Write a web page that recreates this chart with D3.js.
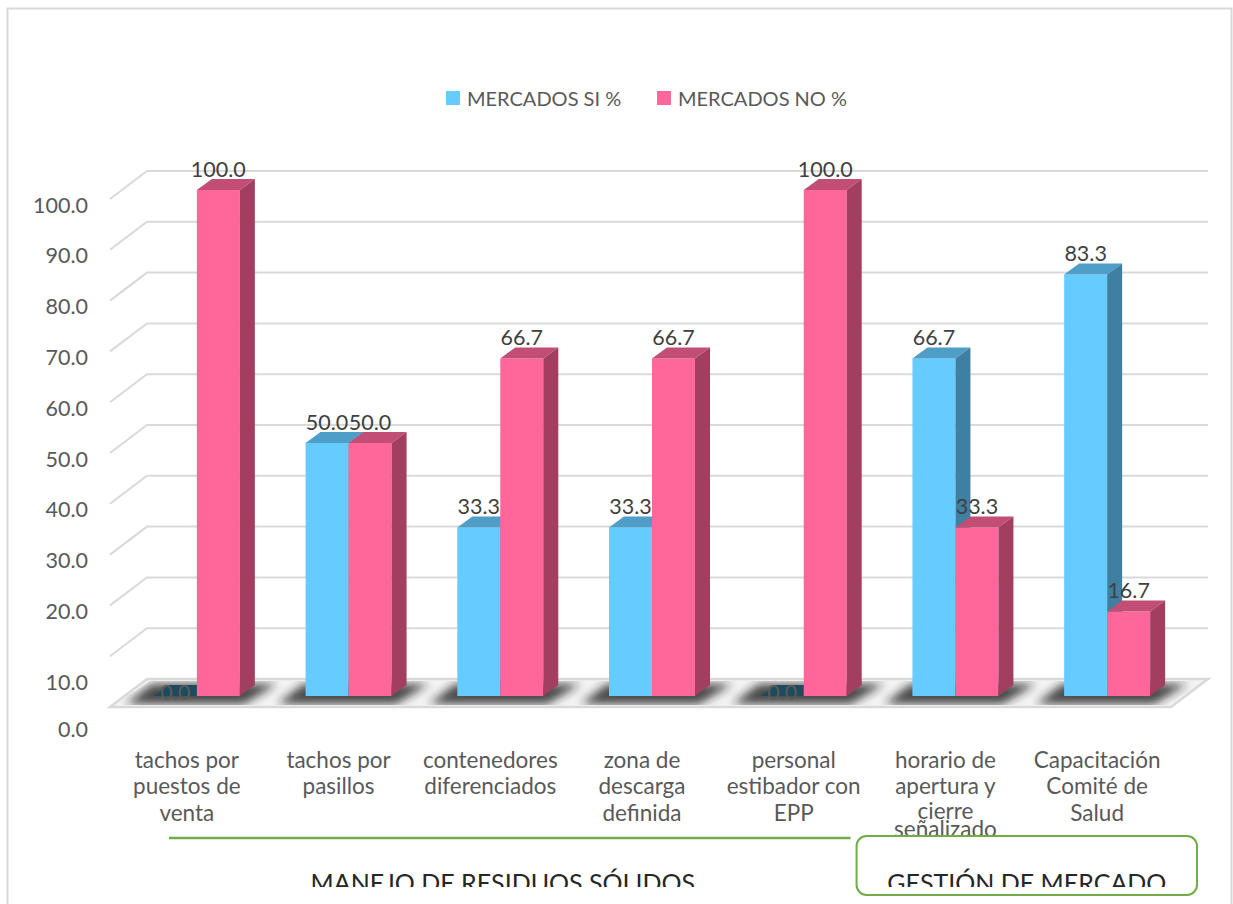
<!DOCTYPE html>
<html>
<head>
<meta charset="utf-8">
<script src="https://cdn.jsdelivr.net/npm/d3@7"></script>
<style>
  html, body { margin: 0; padding: 0; background: #fff; }
  svg { display: block; }
  text { font-family: Lato, "Open Sans", "Liberation Sans", sans-serif; }
</style>
</head>
<body>
<svg id="chart" width="1233" height="904"></svg>
<script>
// ---------- data ----------
const categories = [
  ["tachos por", "puestos de", "venta"],
  ["tachos por", "pasillos"],
  ["contenedores", "diferenciados"],
  ["zona de", "descarga", "definida"],
  ["personal", "estibador con", "EPP"],
  ["horario de", "apertura y", "cierre", "señalizado"],
  ["Capacitación", "Comité de", "Salud"]
];
const seriesNames = ["MERCADOS SI %", "MERCADOS NO %"];
const siValues = [0.0, 50.0, 33.3, 33.3, 0.0, 66.7, 83.3];
const noValues = [100.0, 50.0, 66.7, 66.7, 100.0, 33.3, 16.7];
const tickValues = [0, 10, 20, 30, 40, 50, 60, 70, 80, 90, 100];
const groupNames = ["MANEJO DE RESIDUOS SÓLIDOS", "GESTIÓN DE MERCADO"];
const groupFirst = [0, 5];
const groupLast = [4, 6];

// ---------- styles ----------
const colors = {
  si: { front: "#66CCFF", top: "#4E9EC8", side: "#3F7FA2" },
  no: { front: "#FF6699", top: "#C24E75", side: "#A23F60" }
};
const zeroTop = "#1E4A5E";
const gridColor = "#D9D9D9";
const textColor = "#595959";
const labelColor = "#404040";
const green = "#70AD47";
const fontSize = 21.5;

const svg = d3.select("#chart");

// outer border
svg.append("rect").attr("x", 7.5).attr("y", 8.5).attr("width", 1224).attr("height", 920)
  .attr("fill", "none").attr("stroke", gridColor).attr("stroke-width", 2);

// ---------- scales ----------
const idx = categories.map((d, i) => i);
const x = d3.scaleBand().domain(idx).range([121, 1183]).padding(0);
const barW = 43;
const xs = d3.scaleBand().domain(["si", "no"]).range([-barW, barW]).padding(0);
const yBar = d3.scaleLinear().domain([0, 100]).range([696, 190]);
const yGrid = d3.scaleLinear().domain([0, 100]).range([679, 171]);
const wallDX = 37, wallDY = 28;     // wall depth
const barDX = 15, barDY = 11;       // bar depth
const gridX0 = 147, gridX1 = 1208;

// ---------- gridlines ----------
const gridG = svg.append("g");
tickValues.filter(v => v > 0).forEach(v => {
  const yb = yGrid(v);
  gridG.append("path")
    .attr("d", `M${gridX0 - wallDX},${yb + wallDY} L${gridX0},${yb} L${gridX1},${yb}`)
    .attr("fill", "none").attr("stroke", gridColor).attr("stroke-width", 2);
});

// floor
const fy = yGrid(0);
svg.append("path")
  .attr("d", `M${gridX0 - wallDX},${fy + wallDY} L${gridX0},${fy} L${gridX1},${fy} L${gridX1 - wallDX},${fy + wallDY} Z`)
  .attr("fill", "#F3F3F3").attr("stroke", gridColor).attr("stroke-width", 2.5);

// shadows
const defs = svg.append("defs");
const f = defs.append("filter").attr("id", "blur").attr("x", "-30%").attr("y", "-100%").attr("width", "160%").attr("height", "300%");
f.append("feGaussianBlur").attr("stdDeviation", 5);
const clipF = defs.append("clipPath").attr("id", "floorClip");
clipF.append("path")
  .attr("d", `M${gridX0 - wallDX + 4},${fy + wallDY - 2} L${gridX0 + 3},${fy + 2} L${gridX1 - 3},${fy + 2} L${gridX1 - wallDX - 3},${fy + wallDY - 2} Z`);

const shadowG = svg.append("g").attr("clip-path", "url(#floorClip)");
idx.forEach(i => {
  const c = x(i) + x.bandwidth() / 2;
  const xl = c - barW, xr = c + barW;
  const yb = yBar(0);
  shadowG.append("path")
    .attr("d", `M${xl - 28},${yb + 8} L${xr + 4},${yb + 8} L${xr + barDX + 22},${yb - 12} L${xl - 2},${yb - 12} Z`)
    .attr("fill", "#1a1a1a").attr("opacity", 0.8).attr("filter", "url(#blur)");
});

// ---------- bars ----------
const barsG = svg.append("g");
function drawBar(cx, v, col, isZero) {
  const xl = cx + 0, xr = cx + barW;
  const yt = yBar(v), yb = yBar(0);
  const g = barsG.append("g");
  if (isZero) {
    g.append("path")
      .attr("d", `M${xl},${yb} L${xr},${yb} L${xr + barDX},${yb - barDY} L${xl + barDX},${yb - barDY} Z`)
      .attr("fill", zeroTop);
    return;
  }
  g.append("rect").attr("x", xl).attr("y", yt).attr("width", barW).attr("height", yb - yt)
    .attr("fill", col.front);
  g.append("path")
    .attr("d", `M${xl},${yt} L${xr},${yt} L${xr + barDX},${yt - barDY} L${xl + barDX},${yt - barDY} Z`)
    .attr("fill", col.top);
  g.append("path")
    .attr("d", `M${xr},${yt} L${xr + barDX},${yt - barDY} L${xr + barDX},${yb - barDY} L${xr},${yb} Z`)
    .attr("fill", col.side);
}
idx.forEach(i => {
  const c = x(i) + x.bandwidth() / 2;
  drawBar(c + xs("si"), siValues[i], colors.si, siValues[i] === 0);
  drawBar(c + xs("no"), noValues[i], colors.no, noValues[i] === 0);
});

// ---------- data labels ----------
const labG = svg.append("g").attr("font-size", fontSize).attr("text-anchor", "middle");
idx.forEach(i => {
  const c = x(i) + x.bandwidth() / 2;
  [["si", siValues[i]], ["no", noValues[i]]].forEach(([k, v]) => {
    const cx = c + xs(k) + barW / 2;
    const yc = v === 0 ? yBar(0) - 4 : yBar(v) - 21;
    labG.append("text").attr("x", cx).attr("y", yc).attr("dy", "0.35em")
      .attr("fill", v === 0 ? "#5a5a5a" : labelColor)
      .text(d3.format(".1f")(v));
  });
});

// ---------- y tick labels ----------
const tickG = svg.append("g").attr("font-size", fontSize).attr("text-anchor", "end").attr("fill", textColor);
tickValues.forEach(v => {
  const shift = v === 10 ? 20 : (v === 0 ? 16 : 0);
  tickG.append("text").attr("x", 88).attr("y", yGrid(v) + wallDY + 6 + shift).attr("dy", "0.35em")
    .text(d3.format(".1f")(v));
});

// ---------- category labels ----------
const catG = svg.append("g").attr("font-size", 22.5).attr("text-anchor", "middle").attr("fill", textColor);
idx.forEach(i => {
  const c = x(i) + x.bandwidth() / 2 - 10;
  categories[i].forEach((line, j) => {
    let yy = 760 + j * 26.5;
    if (categories[i].length > 3 && j >= 2) yy = j === 2 ? 811 : 829;
    catG.append("text").attr("x", c).attr("y", yy).attr("dy", "0.35em").text(line);
  });
});

// ---------- group labels ----------
const clipG = defs.append("clipPath").attr("id", "groupClip");
clipG.append("rect").attr("x", 0).attr("y", 0).attr("width", 1233).attr("height", 887);

const grpG = svg.append("g");
// green line under first group
const g0l = x(groupFirst[0]) + 48, g0r = x(groupLast[0]) + x.bandwidth() - 29;
grpG.append("line").attr("x1", g0l).attr("x2", g0r).attr("y1", 838).attr("y2", 838)
  .attr("stroke", green).attr("stroke-width", 2.5);
// rounded box around second group
const g1l = x(groupFirst[1]) - 23, g1r = x(groupLast[1]) + x.bandwidth() + 14;
grpG.append("rect").attr("x", g1l).attr("y", 836).attr("width", g1r - g1l).attr("height", 59)
  .attr("rx", 10).attr("ry", 10).attr("fill", "none").attr("stroke", green).attr("stroke-width", 2);

const grpText = svg.append("g").attr("clip-path", "url(#groupClip)")
  .attr("font-size", 25).attr("text-anchor", "middle").attr("fill", "#262626");
grpText.append("text").attr("x", (g0l + g0r) / 2 - 7).attr("y", 892).text(groupNames[0]);
grpText.append("text").attr("x", (g1l + g1r) / 2).attr("y", 892).text(groupNames[1]);

// ---------- legend ----------
const legG = svg.append("g").attr("font-size", 20).attr("fill", textColor);
const legX = [446, 657];
[colors.si.front, colors.no.front].forEach((col, k) => {
  legG.append("rect").attr("x", legX[k]).attr("y", 91).attr("width", 14).attr("height", 14).attr("fill", col);
  legG.append("text").attr("x", legX[k] + 21).attr("y", 99).attr("dy", "0.35em").text(seriesNames[k]);
});
</script>
</body>
</html>
